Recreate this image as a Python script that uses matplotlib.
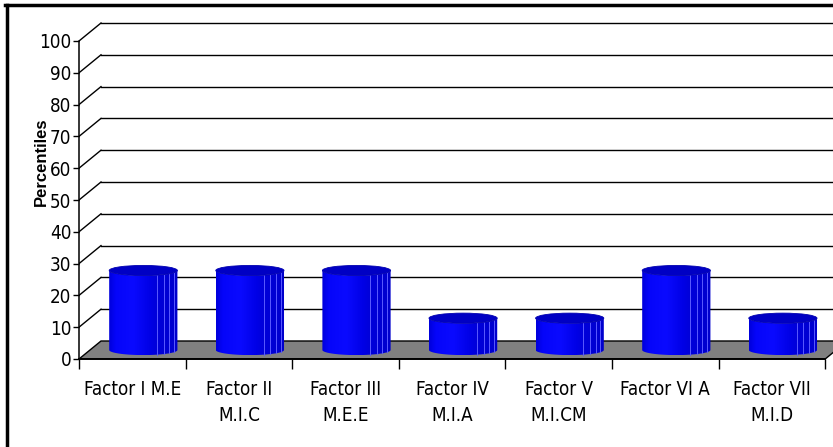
import matplotlib
matplotlib.use("Agg")
import matplotlib.pyplot as plt
import numpy as np
from matplotlib.patches import Polygon, Ellipse

plt.rcParams['font.family'] = ['DejaVu Sans']
plt.rcParams['font.stretch'] = 'condensed'

factors = ["Factor I M.E", "Factor II\nM.I.C", "Factor III\nM.E.E", "Factor IV\nM.I.A",
           "Factor V\nM.I.CM", "Factor VI A", "Factor VII\nM.I.D"]
percentiles = [25, 25, 25, 10, 10, 25, 10]
yticks = [0, 10, 20, 30, 40, 50, 60, 70, 80, 90, 100]

W, H = 833, 447
fig = plt.figure(figsize=(W / 100, H / 100), dpi=100)

# pixel layout of the front plane
x0_px, y0_px = 79, 359
cat_px = 106.6
val_px = 3.18
depth_dx = 22 / cat_px          # depth offset in category units
depth_dy = 18 / val_px          # depth offset in value units

n = len(factors)
xmax = (W - x0_px) / cat_px
ymax = 107
ax = fig.add_axes([x0_px / W, (H - y0_px) / H, (W - x0_px) / W, ymax * val_px / H])
ax.set_xlim(0, xmax)
ax.set_ylim(0, ymax)

# floor
floor = Polygon([(0, 0), (n, 0), (n + depth_dx, depth_dy), (depth_dx, depth_dy)],
                closed=True, facecolor="#808080", edgecolor="black", lw=1, zorder=1)
ax.add_patch(floor)

# side wall diagonals and back wall grid
for v in yticks[1:]:
    ax.plot([0, depth_dx], [v, v + depth_dy], color="black", lw=1, zorder=1)
    ax.plot([depth_dx, xmax], [v + depth_dy, v + depth_dy], color="black", lw=1, zorder=1)

# cylinders
bar_w = 0.64
b = 1.6  # ellipse half-height in value units
stops = [0.00, 0.10, 0.35, 0.60, 0.68, 1.00]
cols = [(0.00, 0.00, 0.86), (0.02, 0.02, 0.98), (0.04, 0.04, 1.00),
        (0.00, 0.00, 0.90), (0.00, 0.00, 0.86), (0.00, 0.00, 0.80)]
xs = np.linspace(0, 1, 200)
rgb = np.zeros((1, 200, 3))
for c in range(3):
    rgb[0, :, c] = np.interp(xs, stops, [col[c] for col in cols])

t = np.linspace(np.pi, 2 * np.pi, 60)
for i, val in enumerate(percentiles):
    cx = i + 0.5 + depth_dx / 2
    base = depth_dy / 2
    top = base + val
    a = bar_w / 2
    bottom_pts = np.column_stack([cx + a * np.cos(t), base + b * np.sin(t)])
    top_pts = np.column_stack([cx + a * np.cos(t[::-1]), top + b * np.sin(t[::-1])])
    body = Polygon(np.vstack([bottom_pts, top_pts]), closed=True,
                   facecolor="none", edgecolor="none", zorder=3)
    ax.add_patch(body)
    im = ax.imshow(rgb, extent=[cx - a, cx + a, base - b, top], aspect="auto",
                   zorder=3, interpolation="bilinear")
    im.set_clip_path(body)
    for f in [0.70, 0.80, 0.88, 0.95]:
        fx = cx - a + 2 * a * f
        sag = b * np.sqrt(max(0, 1 - ((fx - cx) / a) ** 2))
        ax.plot([fx, fx], [base - sag, top - sag], color="#5a5aff", lw=0.7, zorder=3.5)
    ax.add_patch(Ellipse((cx, top), 2 * a, 2 * b, facecolor="#0000c4",
                         edgecolor="#0000b0", lw=0.6, zorder=4))

# axes lines and ticks
for side in ["top", "right"]:
    ax.spines[side].set_visible(False)
ax.spines["left"].set_bounds(0, 100)
ax.spines["bottom"].set_bounds(0, n)
ax.spines["left"].set_zorder(5)
ax.spines["bottom"].set_zorder(5)
ax.spines["left"].set_linewidth(1.1)
ax.spines["bottom"].set_linewidth(1.4)
ax.set_yticks(yticks)
ax.set_yticklabels([str(v) for v in yticks], fontsize=13.5)
ax.tick_params(axis="y", direction="out", length=4, width=1, pad=1.5)
ax.set_xticks(np.arange(n + 1))
ax.set_xticklabels([])
ax.set_xticks(np.arange(n) + 0.5, minor=True)
ax.set_xticklabels(factors, minor=True, fontsize=13.5, linespacing=1.45)
ax.tick_params(axis="x", which="major", direction="out", length=7, width=1)
ax.tick_params(axis="x", which="minor", length=0, pad=15)

fig.text(41 / W, 1 - 162 / H, "Percentiles", rotation=90, ha="center", va="center",
         fontsize=12, fontweight="bold", family=["Liberation Sans", "DejaVu Sans"],
         fontstretch="normal")

# outer frame (left and top edges)
fig.add_artist(plt.Line2D([6.5 / W, 6.5 / W], [0, 1 - 4.5 / H], transform=fig.transFigure,
                          color="black", lw=2.5))
fig.add_artist(plt.Line2D([5.3 / W, 1], [1 - 4.5 / H, 1 - 4.5 / H], transform=fig.transFigure,
                          color="black", lw=2.5))

fig.savefig("out.png", dpi=100)
